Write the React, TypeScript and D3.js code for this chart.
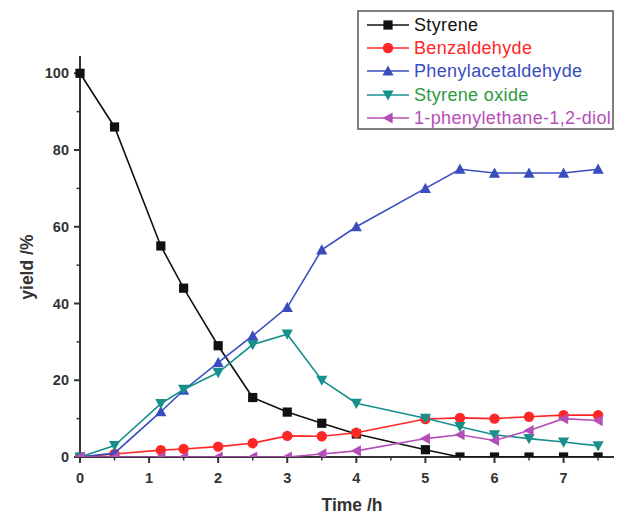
import React from "react";
import * as d3 from "d3";

// reaction time (h)
const times = [0, 0.5, 1.17, 1.5, 2, 2.5, 3, 3.5, 4, 5, 5.5, 6, 6.5, 7, 7.5];

// yields (%) per species
const styrene = [100, 86, 55, 44, 29, 15.5, 11.7, 8.8, 6, 1.9, 0, 0, 0, 0, 0];
const benzaldehyde = [0, 0.8, 1.8, 2.1, 2.7, 3.6, 5.5, 5.4, 6.3, 9.9, 10.2, 10, 10.5, 10.9, 10.9];
const phenylacetaldehyde = [0, 1, 11.8, 17.4, 24.6, 31.6, 39, 54, 60, 70, 75, 74, 74, 74, 75];
const styreneOxide = [0, 3, 13.9, 17.6, 22, 29.3, 32, 20, 14, 10.1, 7.9, 5.8, 4.8, 3.9, 2.9];
const diol = [0, 0, 0, 0, 0, 0, 0, 0.8, 1.6, 4.8, 5.8, 4.3, 6.9, 10, 9.5];

const seriesNames = ["Styrene", "Benzaldehyde", "Phenylacetaldehyde", "Styrene oxide", "1-phenylethane-1,2-diol"];
const seriesValues = [styrene, benzaldehyde, phenylacetaldehyde, styreneOxide, diol];
const lineColors = ["#111111", "#ff2626", "#3a4dbf", "#17908c", "#b54fb8"];
const textColors = ["#111111", "#ff2626", "#3a4dbf", "#2c9a3c", "#b54fb8"];
const markerShapes = ["square", "circle", "up", "down", "left"];

const yMajor = [0, 20, 40, 60, 80, 100];
const xMajor = [0, 1, 2, 3, 4, 5, 6, 7];

function marker(shape: string, cx: number, cy: number, color: string, key: string) {
  const s = 4.6;
  if (shape === "square")
    return <rect key={key} x={cx - s} y={cy - s} width={2 * s} height={2 * s} fill={color} />;
  if (shape === "circle") return <circle key={key} cx={cx} cy={cy} r={s + 0.6} fill={color} />;
  let pts: number[][] = [];
  if (shape === "up") pts = [[cx, cy - s - 1], [cx - s - 1, cy + s], [cx + s + 1, cy + s]];
  if (shape === "down") pts = [[cx, cy + s + 1], [cx - s - 1, cy - s], [cx + s + 1, cy - s]];
  if (shape === "left") pts = [[cx - s - 1, cy], [cx + s, cy - s - 1], [cx + s, cy + s + 1]];
  return <polygon key={key} points={pts.map(p => p.join(",")).join(" ")} fill={color} />;
}

export default function App() {
  const width = 618, height = 515;
  const x = d3.scaleLinear().domain([0, 7.73]).range([80, 614]);
  const y = d3.scaleLinear().domain([0, 104.5]).range([457, 56]);

  const line = d3.line<[number, number]>()
    .x(d => x(d[0]))
    .y(d => y(d[1]));

  const yMinor = d3.range(10, 100, 20);
  const xMinor = d3.range(0.5, 7.6, 1);

  const legendRows = [25, 48, 71, 95, 118];

  return (
    <svg width={width} height={height} style={{ position: "absolute", left: 0, top: 0, background: "#fff" }}
      fontFamily="Liberation Sans, Arial, sans-serif">
      <defs>
        <clipPath id="plot">
          <rect x={x(0) - 10} y={0} width={width} height={y(0)} />
        </clipPath>
      </defs>

      {/* axes */}
      <line x1={x(0)} x2={x(0)} y1={y(0)} y2={y(104.5)} stroke="#333" strokeWidth={2} />
      <line x1={x(0)} x2={x(7.73)} y1={y(0)} y2={y(0)} stroke="#333" strokeWidth={2} />
      {yMajor.map(v => (
        <g key={"ym" + v}>
          <line x1={x(0) - 6} x2={x(0)} y1={y(v)} y2={y(v)} stroke="#333" strokeWidth={2} />
          <text x={x(0) - 11} y={y(v)} dy="0.35em" textAnchor="end" fontSize={14.5} fontWeight="bold" fill="#333">{v}</text>
        </g>
      ))}
      {yMinor.map(v => (
        <line key={"yn" + v} x1={x(0) - 3.5} x2={x(0)} y1={y(v)} y2={y(v)} stroke="#333" strokeWidth={1.5} />
      ))}
      {xMajor.map(v => (
        <g key={"xm" + v}>
          <line x1={x(v)} x2={x(v)} y1={y(0)} y2={y(0) + 6} stroke="#333" strokeWidth={2} />
          <text x={x(v)} y={y(0) + 26} textAnchor="middle" fontSize={14.5} fontWeight="bold" fill="#333">{v}</text>
        </g>
      ))}
      {xMinor.map(v => (
        <line key={"xn" + v} x1={x(v)} x2={x(v)} y1={y(0)} y2={y(0) + 3.5} stroke="#333" strokeWidth={1.5} />
      ))}

      <text transform={`translate(33,${y(50) + 2}) rotate(-90)`} textAnchor="middle" fontSize={17.5} fontWeight="bold" fill="#333">yield /%</text>
      <text x={352} y={511} textAnchor="middle" fontSize={17.5} fontWeight="bold" fill="#333">Time /h</text>

      {/* series */}
      <g clipPath="url(#plot)">
        {seriesValues.map((vals, i) => (
          <g key={seriesNames[i]}>
            <path d={line(times.map((t, j) => [t, vals[j]] as [number, number])) || ""} fill="none"
              stroke={lineColors[i]} strokeWidth={1.6} />
            {times.map((t, j) => marker(markerShapes[i], x(t), y(vals[j]), lineColors[i], seriesNames[i] + j))}
          </g>
        ))}
      </g>

      {/* legend */}
      <rect x={358} y={11} width={255} height={118} fill="#fff" stroke="#555" strokeWidth={1.5} />
      {seriesNames.map((name, i) => (
        <g key={"lg" + name}>
          <line x1={367} x2={409} y1={legendRows[i]} y2={legendRows[i]} stroke={lineColors[i]} strokeWidth={1.6} />
          {marker(markerShapes[i], 388, legendRows[i], lineColors[i], "lm" + i)}
          <text x={414} y={legendRows[i]} dy="0.36em" fontSize={18} letterSpacing={0.35} fill={textColors[i]}>{name}</text>
        </g>
      ))}
    </svg>
  );
}
